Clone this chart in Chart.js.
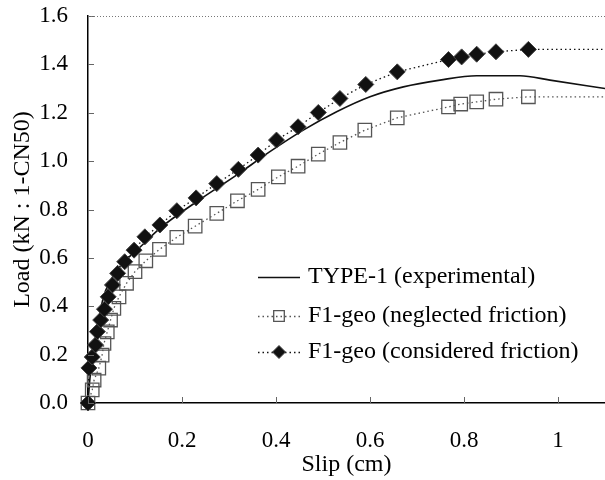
<!DOCTYPE html>
<html>
<head>
<meta charset="utf-8">
<script src="https://cdn.jsdelivr.net/npm/chart.js@4/dist/chart.umd.min.js"></script>
<style>
  body { margin: 0; background: #fff; }
  canvas { display: block; }
</style>
</head>
<body>
<canvas id="chart" width="605" height="480"></canvas>
<script>
// Load-slip curves
const xTicks = [0, 0.2, 0.4, 0.6, 0.8, 1];
const yTicks = [0, 0.2, 0.4, 0.6, 0.8, 1.0, 1.2, 1.4, 1.6];

const seriesLabels = [
  'TYPE-1 (experimental)',
  'F1-geo (neglected friction)',
  'F1-geo (considered friction)'
];

// experimental (solid curve)
const expX = [0, 0.004, 0.010, 0.016, 0.023, 0.034, 0.045, 0.060, 0.080, 0.104, 0.153, 0.231, 0.316, 0.387, 0.458, 0.529, 0.600, 0.671, 0.749, 0.827, 0.919, 0.983, 1.100];
const expY = [0, 0.10, 0.20, 0.27, 0.35, 0.446, 0.495, 0.545, 0.59, 0.632, 0.722, 0.832, 0.942, 1.039, 1.128, 1.204, 1.266, 1.307, 1.335, 1.353, 1.353, 1.335, 1.300];

// neglected friction (open squares); last point only carries the dotted line to the edge
const negX = [0, 0.009, 0.013, 0.023, 0.030, 0.034, 0.041, 0.048, 0.055, 0.066, 0.082, 0.100, 0.123, 0.152, 0.189, 0.228, 0.274, 0.318, 0.362, 0.405, 0.447, 0.490, 0.536, 0.589, 0.658, 0.767, 0.793, 0.827, 0.868, 0.937, 1.100];
const negY = [0, 0.054, 0.095, 0.144, 0.198, 0.246, 0.294, 0.343, 0.391, 0.439, 0.495, 0.543, 0.588, 0.635, 0.685, 0.731, 0.784, 0.836, 0.883, 0.935, 0.979, 1.029, 1.077, 1.128, 1.179, 1.224, 1.236, 1.245, 1.256, 1.266, 1.266];

// considered friction (filled diamonds)
const conX = [0, 0.002, 0.009, 0.016, 0.020, 0.027, 0.035, 0.043, 0.052, 0.063, 0.078, 0.098, 0.121, 0.153, 0.189, 0.230, 0.274, 0.320, 0.362, 0.401, 0.447, 0.490, 0.536, 0.591, 0.658, 0.767, 0.795, 0.827, 0.868, 0.937, 1.100];
const conY = [0, 0.145, 0.19, 0.24, 0.295, 0.343, 0.388, 0.439, 0.488, 0.536, 0.584, 0.632, 0.687, 0.736, 0.795, 0.848, 0.907, 0.966, 1.025, 1.087, 1.142, 1.201, 1.259, 1.317, 1.369, 1.420, 1.431, 1.442, 1.452, 1.462, 1.462];

const toPoints = (xs, ys) => xs.map((x, i) => ({ x, y: ys[i] }));
const hideLast = (r) => (ctx) => ctx.dataIndex === ctx.dataset.data.length - 1 ? 0 : r;

const serif = '"Liberation Serif", "Times New Roman", serif';

const datasets = [
  {
    label: seriesLabels[0],
    data: toPoints(expX, expY),
    borderColor: '#111',
    borderWidth: 1.6,
    pointRadius: 0,
    cubicInterpolationMode: 'monotone',
    order: 2
  },
  {
    label: seriesLabels[1],
    data: toPoints(negX, negY),
    borderColor: '#555',
    borderWidth: 1.3,
    borderDash: [1.5, 3],
    pointStyle: 'rect',
    pointRadius: hideLast(9.5),
    pointBackgroundColor: 'rgba(255,255,255,0)',
    pointBorderColor: '#555',
    pointBorderWidth: 1.3,
    clip: false,
    order: 1
  },
  {
    label: seriesLabels[2],
    data: toPoints(conX, conY),
    borderColor: '#111',
    borderWidth: 1.3,
    borderDash: [1.5, 3],
    pointStyle: 'rectRot',
    pointRadius: hideLast(8),
    pointBackgroundColor: '#111',
    pointBorderColor: '#444',
    pointBorderWidth: 1,
    clip: false,
    order: 0
  }
];

// keep the plot box where the figure has it
const noPad = (s) => {
  s.paddingTop = 0;
  s.paddingBottom = 0;
  s.paddingLeft = 0;
  s.paddingRight = 0;
};

// inward tick marks, dotted top frame and the in-plot legend
const framePlugin = {
  id: 'frame',
  afterDraw(chart) {
    const { ctx, chartArea: a, scales } = chart;
    ctx.save();
    ctx.strokeStyle = '#666';
    ctx.lineWidth = 1;
    ctx.beginPath();
    xTicks.forEach(v => {
      const px = Math.round(scales.x.getPixelForValue(v)) + 0.5;
      ctx.moveTo(px, a.bottom);
      ctx.lineTo(px, a.bottom - 6);
    });
    yTicks.forEach(v => {
      const py = Math.round(scales.y.getPixelForValue(v)) + 0.5;
      ctx.moveTo(a.left, py);
      ctx.lineTo(a.left + 6, py);
    });
    ctx.stroke();

    ctx.setLineDash([1, 2]);
    ctx.strokeStyle = '#777';
    ctx.beginPath();
    ctx.moveTo(a.left, a.top + 0.5);
    ctx.lineTo(a.right, a.top + 0.5);
    ctx.stroke();
    ctx.setLineDash([]);

    // legend
    const rows = [277, 316, 352];
    const x0 = 258, x1 = 300, tx = 308;
    ctx.font = '24px ' + serif;
    ctx.textBaseline = 'middle';
    ctx.textAlign = 'left';
    chart.data.datasets.forEach((ds, i) => {
      const y = rows[i];
      ctx.beginPath();
      ctx.strokeStyle = ds.borderColor;
      ctx.lineWidth = ds.borderWidth;
      ctx.setLineDash(ds.borderDash || []);
      ctx.moveTo(x0, y + 0.5);
      ctx.lineTo(x1, y + 0.5);
      ctx.stroke();
      ctx.setLineDash([]);
      if (ds.pointStyle) {
        ctx.fillStyle = ds.pointBackgroundColor;
        ctx.strokeStyle = ds.pointBorderColor;
        ctx.lineWidth = ds.pointBorderWidth;
        Chart.helpers.drawPoint(ctx, {
          pointStyle: ds.pointStyle,
          radius: ds.pointStyle === 'rect' ? 7.5 : 6.5,
          rotation: 0,
          borderWidth: ds.pointBorderWidth
        }, (x0 + x1) / 2, y);
      }
      ctx.fillStyle = '#000';
      ctx.fillText(ds.label, tx, y);
    });
    ctx.restore();
  }
};

new Chart(document.getElementById('chart'), {
  type: 'line',
  data: { datasets },
  options: {
    responsive: false,
    animation: false,
    layout: { autoPadding: false, padding: { top: 16, right: 0, left: 0, bottom: 0 } },
    plugins: {
      legend: { display: false },
      tooltip: { enabled: false }
    },
    scales: {
      x: {
        type: 'linear',
        min: 0,
        max: 1.1,
        afterBuildTicks: (s) => { s.ticks = xTicks.map(v => ({ value: v })); },
        afterFit: (s) => { s.height = 77; noPad(s); },
        grid: { display: false, drawTicks: false },
        border: { display: true, color: '#000', width: 1.5 },
        ticks: {
          padding: 24,
          color: '#000',
          font: { family: serif, size: 23 },
          callback: (v) => String(v)
        },
        title: {
          display: true,
          text: 'Slip (cm)',
          color: '#000',
          font: { family: serif, size: 24 },
          padding: { top: 0, bottom: 1 }
        }
      },
      y: {
        min: 0,
        max: 1.6,
        afterBuildTicks: (s) => { s.ticks = yTicks.map(v => ({ value: v })); },
        afterFit: (s) => { s.width = 88; noPad(s); },
        grid: { display: false, drawTicks: false },
        border: { display: true, color: '#000', width: 1.5 },
        ticks: {
          padding: 20,
          color: '#000',
          font: { family: serif, size: 23 },
          callback: (v) => Number(v).toFixed(1)
        },
        title: {
          display: true,
          text: 'Load (kN : 1-CN50)',
          color: '#000',
          font: { family: serif, size: 24 },
          padding: { top: 8, bottom: 0 }
        }
      }
    }
  },
  plugins: [framePlugin]
});
</script>
</body>
</html>
